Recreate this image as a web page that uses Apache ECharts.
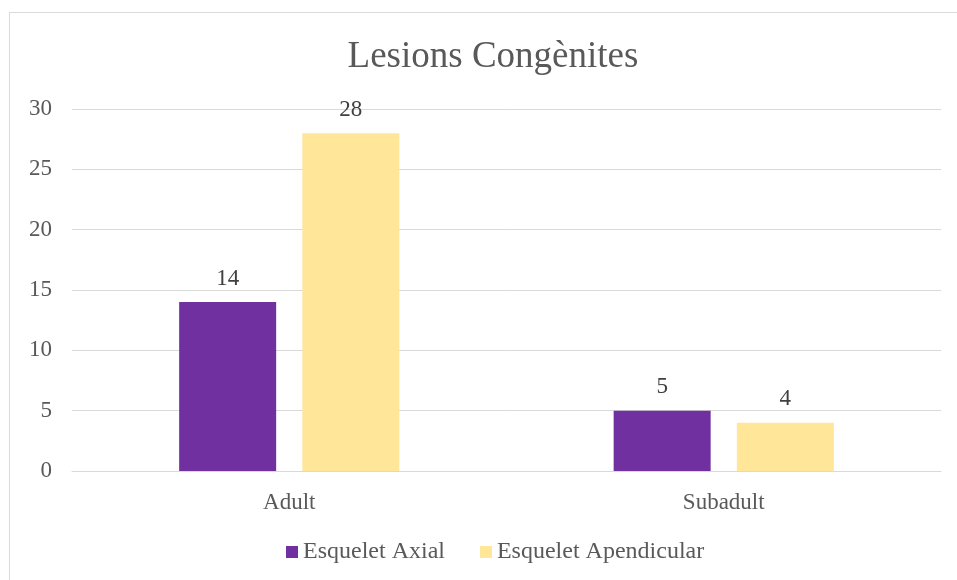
<!DOCTYPE html>
<html>
<head>
<meta charset="utf-8">
<script src="https://cdn.jsdelivr.net/npm/echarts@6/dist/echarts.min.js"></script>
<style>
  html, body { margin: 0; padding: 0; background: #fff; }
  #wrap { position: relative; width: 957px; height: 580px; overflow: hidden; }
  #frame { position: absolute; left: 9px; top: 12px; width: 970px; height: 600px; border: 1px solid #d9d9d9; box-sizing: border-box; }
  #chart { position: absolute; left: 0; top: 0; width: 957px; height: 580px; }
</style>
</head>
<body>
<div id="wrap">
  <div id="frame"></div>
  <div id="chart"></div>
</div>
<script>
const categories = ['Adult', 'Subadult'];
const axialValues = [14, 5];
const apendicularValues = [28, 4];
const seriesNames = ['Esquelet Axial', 'Esquelet Apendicular'];

const textColor = '#595959';
const fontFamily = '"Liberation Serif", "Times New Roman", serif';

const chart = echarts.init(document.getElementById('chart'), null, { renderer: 'canvas' });

const labelStyle = {
  show: true,
  position: 'top',
  distance: 12,
  color: '#404040',
  fontFamily: fontFamily,
  fontSize: 23
};

chart.setOption({
  animation: false,
  title: {
    text: 'Lesions Congènites',
    left: 488,
    textAlign: 'center',
    top: 34,
    textStyle: { color: textColor, fontFamily: fontFamily, fontSize: 37, fontWeight: 'normal' }
  },
  legend: {
    bottom: 11,
    left: 281,
    itemWidth: 12,
    itemHeight: 12,
    itemGap: 35,
    icon: 'rect',
    textStyle: { color: textColor, fontFamily: fontFamily, fontSize: 24, padding: [0, 0, 0, 0] },
    data: seriesNames
  },
  grid: { left: 72, right: 16, top: 109, bottom: 109, containLabel: false },
  xAxis: {
    type: 'category',
    data: categories,
    axisLine: { lineStyle: { color: '#d9d9d9', width: 1 } },
    axisTick: { show: false },
    axisLabel: { color: textColor, fontFamily: fontFamily, fontSize: 23, margin: 20 }
  },
  yAxis: {
    type: 'value',
    min: 0,
    max: 30,
    interval: 5,
    axisLine: { show: false },
    axisTick: { show: false },
    splitLine: { lineStyle: { color: '#d9d9d9', width: 1 } },
    axisLabel: { color: textColor, fontFamily: fontFamily, fontSize: 23, margin: 20 }
  },
  series: [
    {
      name: seriesNames[0],
      type: 'bar',
      data: axialValues,
      barWidth: 97,
      barGap: '27%',
      itemStyle: { color: '#7030A0' },
      label: labelStyle
    },
    {
      name: seriesNames[1],
      type: 'bar',
      data: apendicularValues,
      barWidth: 97,
      itemStyle: { color: '#FFE699' },
      label: labelStyle
    }
  ]
});
</script>
</body>
</html>
